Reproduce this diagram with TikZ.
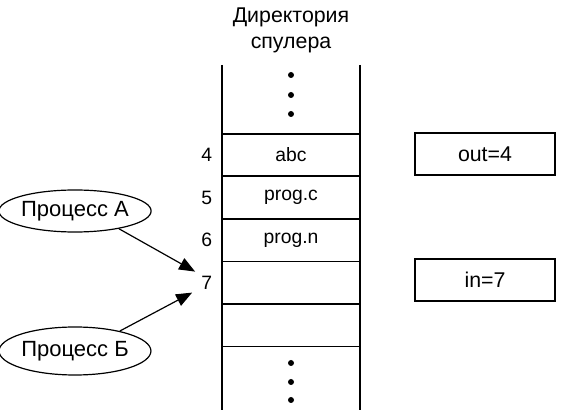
\documentclass[tikz,border=0pt]{standalone}
\usepackage{fontspec}
\setmainfont{Liberation Sans}
\usetikzlibrary{arrows.meta,positioning,shapes.geometric}

\begin{document}
\begin{tikzpicture}[x=0.75pt,y=-0.75pt,
    cell/.style={minimum width=103.5pt,minimum height=31.5pt,inner sep=0pt,
        font=\fontsize{14.5}{16}\selectfont},
    slotnum/.style={inner sep=0pt,font=\fontsize{14.5}{16}\selectfont},
    proc/.style={draw,ellipse,line width=0.9pt,minimum width=109.5pt,inner sep=0pt,
        font=\fontsize{16.5}{19}\selectfont},
    ptrbox/.style={draw,line width=1.5pt,minimum width=105pt,minimum height=31.5pt,
        inner sep=0pt,font=\fontsize{16}{19}\selectfont},
    dot/.style={circle,fill,inner sep=0pt,minimum size=4.5pt},
    feed/.style={line width=0.9pt,-{Triangle[length=12pt,width=9.5pt]}}]
    \useasboundingbox (0,0) rectangle (569,417);
    % Spooler directory
    \node[align=center,font=\fontsize{16}{19.5}\selectfont] (title) at (291,30)
        {Директория\\спулера};
    \draw[line width=1.6pt] (222,65) -- (222,410);
    \draw[line width=1.6pt] (360,65) -- (360,410);
    \node[cell] (c4) at (291,155) {abc};
    \node[cell,below=0pt of c4] (c5) {prog.c};
    \node[cell,below=0pt of c5] (c6) {prog.n};
    \node[cell,below=0pt of c6] (c7) {};
    \node[cell,below=0pt of c7] (c8) {};
    \foreach \c in {c4,c5,c6,c7,c8}
        \draw[line width=1.2pt] (\c.north west) -- (\c.north east);
    \draw[line width=1.2pt] (c8.south west) -- (c8.south east);
    \foreach \y [count=\i] in {75,95,114}
        \node[dot] (up\i) at (291,\y) {};
    \foreach \y [count=\i] in {363,382,400}
        \node[dot] (dn\i) at (291,\y) {};
    % Slot numbers
    \node[slotnum,left=7pt of c4] (n4) {4};
    \node[slotnum,left=7pt of c5] (n5) {5};
    \node[slotnum,left=7pt of c6] (n6) {6};
    \node[slotnum,left=7pt of c7] (n7) {7};
    % Pointers
    \node[ptrbox] (out) at (485,154) {out=4};
    \node[ptrbox] (in) at (485,280) {in=7};
    % Processes
    \node[proc,minimum height=31.5pt] (pa) at (75,211) {Процесс А};
    \node[proc,minimum height=36pt] (pb) at (75,351) {Процесс Б};
    \coordinate (inA) at ([shift={(-6,-11)}]n7.west);
    \coordinate (inB) at ([shift={(-9,10)}]n7.west);
    \draw[feed] (pa.-22) -- (inA);
    \draw[feed] (pb.24) -- (inB);
\end{tikzpicture}
\end{document}
